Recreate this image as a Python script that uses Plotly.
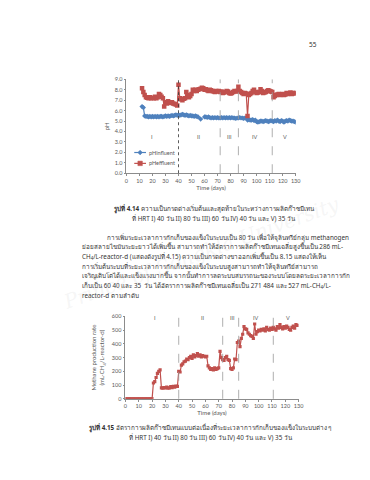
import plotly.graph_objects as go

# ---------------- DATA ----------------
ph_days = list(range(12, 131))
ph_influent = [6.4, 6.3, 5.5, 5.45, 5.45, 5.4, 5.45, 5.4, 5.45, 5.4, 5.45, 5.4, 5.45, 5.4, 5.45,
               5.45, 5.4, 5.45, 5.5, 5.45, 5.5, 5.45, 5.5, 5.55, 5.5, 5.55, 5.6, 5.55, 5.6, 5.55,
               5.6, 5.65, 5.6, 5.55, 5.6, 5.55, 5.5, 5.55, 5.5, 5.5, 5.45, 5.5, 5.45, 5.4, None,
               5.2, None, None, 5.4, 5.4, 5.35, 5.4, 5.35, 5.3, 5.35, 5.3, 5.35, 5.3, 5.35, 5.3,
               5.3, 5.35, 5.3, 5.35, 5.3, 5.35, 5.3, 5.35, 5.3, 5.35, 5.3, 5.3, 5.25, 5.3, 5.3,
               5.35, 5.3, 5.3, 5.25, 5.3, 5.3, 5.1, 5.15, 5.1, 5.1, 5.15, 5.05, 5.1, 4.95, 4.9,
               4.95, 5.0, 5.0, 4.95, 5.0, 5.05, 5.0, 4.95, 5.0, 5.05, 5.0, 4.95, 5.05, 5.0, 5.1,
               5.0, 4.95, 5.05, 5.0, 4.9, 5.0, 5.05, 5.0, 5.1, 5.05, 5.0, 5.0, 4.95, 4.9]
ph_effluent = [8.15, 7.8, 7.5, 7.3, 7.25, 7.2, 7.3, 7.2, 7.25, 7.2, 7.35, 7.2, 7.3, 7.6, 7.5,
               7.35, 7.2, 6.4, 6.8, 6.7, 6.9, 6.8, 6.75, 6.8, 6.7, 6.65, 6.6, 6.5, 8.5, 7.2,
               7.1, 7.0, 7.15, 7.2, 7.8, 7.5, 7.3, 7.4, 7.6, 8.0, 7.9, 8.0, 7.9, 8.0, 8.05,
               8.1, 8.2, 8.15, 8.0, 8.05, 7.95, 7.9, 8.0, 7.95, 7.9, 7.85, 7.8, 7.9, 7.85, 7.9,
               7.8, 7.85, 7.7, 7.75, 7.8, 7.9, 7.85, 7.7, 7.65, 7.7, 7.8, 7.9, 7.85, 7.9, 8.3,
               7.9, 7.8, 7.7, 7.6, 7.7, 7.65, 5.5, 7.5, 7.6, 7.7, 7.9, 8.0, 7.8, 7.7, 7.75,
               7.8, 8.05, 7.9, 7.7, 7.75, 7.8, 7.9, 7.95, 7.9, 7.85, 7.8, 7.3, 7.4, 7.5, 7.55,
               7.6, 7.5, 7.55, 7.6, 7.5, 7.55, 7.7, 7.6, 7.65, 7.75, 7.6, 7.7, 7.65, 7.7]

ch4_days = list(range(0, 130))
ch4_rate = [0] * 21 + [115, 125, 155, 185, 200, 210, 80, 78, 82, 80, 85, 78, 80, 88, 82, 90, 85,
                       92, 90, 200, 195, 245, 255, 270, 275, 290, 285, 300, 310, 295, 320, 305, 315,
                       330, 310, 320, 305, 315, 310, 305, 310, 240, 225, 215, 220, 210, 225, 215,
                       220, 225, 345, 300, 285, 280, 300, 310, 285, 280, 220, 215, 225, 290, 285,
                       410, 420, 380, 440, 470, 525, 510, 505, 480, 470, 460, 455, 440, 545, 470,
                       490, 500, 495, 505, 500, 510, 495, 520, 505, 500, 515, 505, 520, 510, 500,
                       525, 515, 540, 520, 510, 525, 515, 530, 520, 505, 500, 520, 530, 515, 540, 535]

period_labels = ["I", "II", "III", "IV", "V"]
ph_period_days = [20, 56, 79, 99, 122]
ch4_period_days = [22, 58, 80, 98, 122]
ph_bounds = [40, 72, 86, 112]
ch4_bounds = [40, 73, 85, 111]
x_ticks = list(range(0, 131, 10))
legend_names = ["pHinfluent", "pHeffluent"]

# ---------------- STYLE ----------------
BLUE = "#4F81BD"
RED = "#C0504D"
TICK = "#595959"
AX = "#8c8c8c"
CF = "Lato, Open Sans, sans-serif"
TF = "Noto Sans, DejaVu Sans, sans-serif"
W, H = 370, 480


def px(x):
    return x / W


def py(y):
    return 1 - y / H


fig = go.Figure()

fig.add_trace(go.Scatter(x=ph_days, y=ph_influent, name=legend_names[0], mode="lines+markers",
                         line=dict(color=BLUE, width=1.2), connectgaps=False, showlegend=False,
                         marker=dict(symbol="diamond", size=4, color=BLUE),
                         xaxis="x", yaxis="y"))
fig.add_trace(go.Scatter(x=ph_days, y=ph_effluent, name=legend_names[1], mode="lines+markers",
                         line=dict(color=RED, width=1.2), showlegend=False,
                         marker=dict(symbol="square", size=4.5, color=RED),
                         xaxis="x", yaxis="y"))
fig.add_trace(go.Scatter(x=ch4_days, y=ch4_rate, name="CH4", mode="lines+markers",
                         line=dict(color=RED, width=1.2), showlegend=False,
                         marker=dict(symbol="square", size=3.2, color=RED),
                         xaxis="x2", yaxis="y2"))

axis_common = dict(showline=True, linecolor=AX, linewidth=0.8, showgrid=False, zeroline=False,
                   ticks="outside", ticklen=2, tickcolor=AX, tickwidth=0.8,
                   tickfont=dict(family=CF, size=5.5, color=TICK))

fig.update_layout(
    width=W, height=H, margin=dict(l=0, r=0, t=0, b=0),
    paper_bgcolor="white", plot_bgcolor="rgba(0,0,0,0)", showlegend=False,
    xaxis=dict(domain=[px(119), px(292)], range=[0, 130], tickvals=x_ticks, anchor="y",
               title=dict(text="Time (days)", font=dict(family=CF, size=6, color=TICK), standoff=2),
               **axis_common),
    yaxis=dict(domain=[py(164.3), py(69.3)], range=[0, 9], dtick=1, tickformat=".1f", anchor="x",
               title=dict(text="pH", font=dict(family=CF, size=6, color=TICK), standoff=4),
               **axis_common),
    xaxis2=dict(domain=[px(118), px(295)], range=[0, 130], tickvals=x_ticks, anchor="y2",
                title=dict(text="Time (days)", font=dict(family=CF, size=6, color=TICK), standoff=0),
                **axis_common),
    yaxis2=dict(domain=[py(392.7), py(309.3)], range=[0, 600], dtick=100, anchor="x2",
                title=dict(text="Methane production rate<br>(mL-CH<sub>4</sub>/L-reactor-d)",
                           font=dict(family=CF, size=6, color=TICK), standoff=6),
                **axis_common),
)

shapes = []
for i, d in enumerate(ph_bounds):
    shapes.append(dict(type="line", xref="x", yref="y domain", x0=d, x1=d, y0=0, y1=1,
                       line=dict(color="#333333" if i == 0 else "#9a9a9a", width=0.8,
                                 dash="dot" if i == 0 else "dash")))
for d in ch4_bounds:
    shapes.append(dict(type="line", xref="x2", yref="y2 domain", x0=d, x1=d, y0=0, y1=1,
                       line=dict(color="#9a9a9a", width=0.8, dash="dash")))

# hand-drawn legend (short Excel-style samples)
LX0, LX1, LY = 127, 139, [143.3, 154.3]
for k, col in enumerate([BLUE, RED]):
    yy = LY[k]
    shapes.append(dict(type="line", xref="paper", yref="paper", x0=px(LX0), x1=px(LX1),
                       y0=py(yy), y1=py(yy), line=dict(color=col, width=1.2)))
    cx = (LX0 + LX1) / 2
    if k == 0:
        path = (f"M {px(cx)},{py(yy - 2.4)} L {px(cx + 2.4)},{py(yy)} "
                f"L {px(cx)},{py(yy + 2.4)} L {px(cx - 2.4)},{py(yy)} Z")
        shapes.append(dict(type="path", xref="paper", yref="paper", path=path,
                           fillcolor=col, line=dict(color=col, width=0.5)))
    else:
        shapes.append(dict(type="rect", xref="paper", yref="paper",
                           x0=px(cx - 2.3), x1=px(cx + 2.3), y0=py(yy - 2.3), y1=py(yy + 2.3),
                           fillcolor=col, line=dict(color=col, width=0.5)))
fig.update_layout(shapes=shapes)

ann = []
for k, name in enumerate(legend_names):
    ann.append(dict(x=px(LX1 + 1.5), y=py(LY[k]), xref="paper", yref="paper", text=name,
                    showarrow=False, xanchor="left", yanchor="middle",
                    font=dict(family=CF, size=5.5, color=TICK)))
for lab, d in zip(period_labels, ph_period_days):
    ann.append(dict(x=d, y=3.5, xref="x", yref="y", text=lab, showarrow=False,
                    font=dict(family=CF, size=5.5, color=TICK)))
for lab, d in zip(period_labels, ch4_period_days):
    ann.append(dict(x=d, y=590, xref="x2", yref="y2", text=lab, showarrow=False,
                    font=dict(family=CF, size=5.5, color=TICK)))


def txt(x, y, s, size=6.5, anchor="left", color="#333333"):
    ann.append(dict(x=px(x), y=py(y), xref="paper", yref="paper", text=s, showarrow=False,
                    xanchor=anchor, yanchor="middle", font=dict(family=TF, size=size, color=color)))


txt(310, 34, "55", 6.5, "center")
txt(209, 200, "<b>รูปที่ 4.14</b> ความเป็นกรดด่างเริ่มต้นและสุดท้ายในระหว่างการผลิตก๊าซมีเทน", 6.3, "center")
txt(209, 210, "ที่ HRT I) 40 วัน II) 80 วัน III) 60 วัน IV) 40 วัน และ V) 35 วัน", 6.3, "center")

para = [
    (97, "การเพิ่มระยะเวลาการกักเก็บของแข็งในระบบเป็น 80 วัน เพื่อให้จุลินทรีย์กลุ่ม methanogen"),
    (72, "ย่อยสลายไขมันระยะยาวได้เพิ่มขึ้น สามารถทำให้อัตราการผลิตก๊าซมีเทนเฉลี่ยสูงขึ้นเป็น 286 mL-"),
    (72, "CH<sub>4</sub>/L-reactor-d (แสดงดังรูปที่ 4.15) ความเป็นกรดด่างขาออกเพิ่มขึ้นเป็น 8.15 แสดงให้เห็น"),
    (72, "การเริ่มต้นระบบที่ระยะเวลาการกักเก็บของแข็งในระบบสูงสามารถทำให้จุลินทรีย์สามารถ"),
    (72, "เจริญเติบโตได้และแข็งแรงมากขึ้น จากนั้นทำการลดระบบสมรรถนะของระบบโดยลดระยะเวลาการกัก"),
    (72, "เก็บเป็น 60 40 และ 35  วัน ได้อัตราการผลิตก๊าซมีเทนเฉลี่ยเป็น 271 484 และ 527 mL-CH<sub>4</sub>/L-"),
    (72, "reactor-d ตามลำดับ"),
]
for i, (x0, s) in enumerate(para):
    txt(x0, 229 + i * 9.8, s, 6.3)

txt(205, 422, "<b>รูปที่ 4.15</b> อัตราการผลิตก๊าซมีเทนแบบต่อเนื่องที่ระยะเวลาการกักเก็บของแข็งในระบบต่าง ๆ", 6.3, "center")
txt(205, 432, "ที่ HRT I) 40 วัน II) 80 วัน III) 60 วัน IV) 40 วัน และ V) 35 วัน", 6.3, "center")

# faint watermark
ann.append(dict(x=px(195), y=py(245), xref="paper", yref="paper", showarrow=False,
                text="<i>Prince of Songkla University</i>", textangle=-20,
                font=dict(family="DejaVu Serif, serif", size=20, color="rgba(200,200,200,0.18)")))

fig.update_layout(annotations=ann)

fig.write_html("out.html")
